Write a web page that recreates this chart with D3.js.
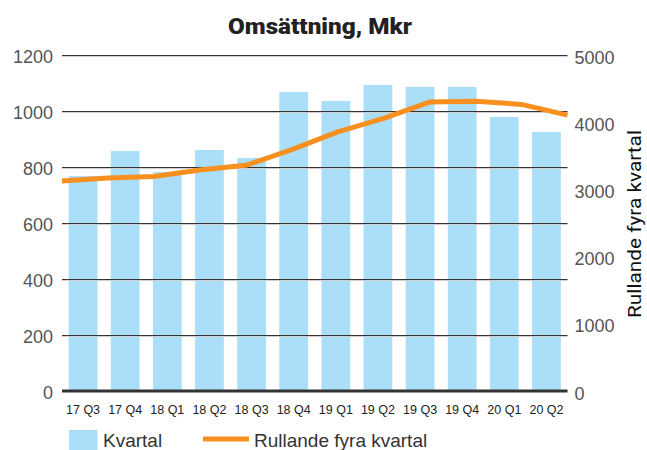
<!DOCTYPE html>
<html><head><meta charset="utf-8">
<script src="https://cdn.jsdelivr.net/npm/d3@7"></script>
<style>body{margin:0;background:#fff}svg{display:block}</style>
</head><body>
<script>
const categories = ["17 Q3","17 Q4","18 Q1","18 Q2","18 Q3","18 Q4","19 Q1","19 Q2","19 Q3","19 Q4","20 Q1","20 Q2"];
const kvartal = [768, 857, 782, 861, 832, 1068, 1036, 1093, 1086, 1086, 979, 925];
const rullande = [3124, 3169, 3193, 3289, 3358, 3593, 3857, 4057, 4300, 4312, 4265, 4105];
const leftTicks = [0, 200, 400, 600, 800, 1000, 1200];
const rightTicks = [0, 1000, 2000, 3000, 4000, 5000];
const title = "Omsättning, Mkr";
const rightTitle = "Rullande fyra kvartal";
const legendLabels = ["Kvartal", "Rullande fyra kvartal"];

const W = 647, H = 450;
const svg = d3.select("body").append("svg").attr("width", W).attr("height", H);
const x0 = 62, x1 = 567.5, yTop = 55, yBot = 391;

const xb = d3.scaleBand().domain(categories).range([x0, x1]).paddingInner(0.317).paddingOuter(0.158);
const xp = d3.scalePoint().domain(categories).range([x0, x1]).padding(0);
const yl = d3.scaleLinear().domain([0, 1200]).range([yBot, yTop]);
const yr = d3.scaleLinear().domain([0, 5000]).range([yBot, yTop]);

// title
svg.append("text").attr("x", 320).attr("y", 34).attr("text-anchor", "middle")
  .attr("font-family", "Roboto, sans-serif").attr("font-weight", 900).attr("font-size", 22.5)
  .attr("textLength", 184).attr("lengthAdjust", "spacingAndGlyphs")
  .attr("fill", "#222").text(title);

// bars
svg.append("g").selectAll("rect").data(kvartal).join("rect")
  .attr("x", (d, i) => xb(categories[i])).attr("width", xb.bandwidth())
  .attr("y", d => yl(d)).attr("height", d => yl(0) - yl(d))
  .attr("fill", "#abdff9");

// gridlines
const grid = svg.append("g");
leftTicks.filter(t => t > 0).forEach(t => {
  grid.append("line").attr("x1", x0).attr("x2", x1).attr("y1", yl(t) + 1.5).attr("y2", yl(t) + 1.5)
    .attr("stroke", "#cfcfcf").attr("stroke-width", 1);
  grid.append("line").attr("x1", x0).attr("x2", x1).attr("y1", yl(t) + 0.5).attr("y2", yl(t) + 0.5)
    .attr("stroke", "#333").attr("stroke-width", 1);
});
grid.append("line").attr("x1", x0).attr("x2", x1).attr("y1", yl(0)).attr("y2", yl(0))
  .attr("stroke", "#333").attr("stroke-width", 3);

// left axis labels
const leftAxis = d3.axisLeft(yl).tickValues(leftTicks).tickFormat(d3.format("d")).tickSize(0).tickPadding(9);
const gl = svg.append("g").attr("transform", `translate(${x0},0)`).call(leftAxis);
gl.select(".domain").remove();
gl.selectAll("text").attr("font-family", "'Liberation Sans', Arial, sans-serif").attr("font-size", 18)
  .attr("fill", "#555").attr("dy", "0.4em");

// right axis labels
const rightAxis = d3.axisRight(yr).tickValues(rightTicks).tickFormat(d3.format("d")).tickSize(0).tickPadding(7);
const gr = svg.append("g").attr("transform", `translate(${x1},0)`).call(rightAxis);
gr.select(".domain").remove();
gr.selectAll("text").attr("font-family", "'Liberation Sans', Arial, sans-serif").attr("font-size", 18)
  .attr("fill", "#555").attr("dy", "0.45em");

// x axis labels
const xAxis = d3.axisBottom(xb).tickSize(0).tickPadding(14);
const gx = svg.append("g").attr("transform", `translate(0,${yBot})`).call(xAxis);
gx.select(".domain").remove();
gx.selectAll("text").attr("font-family", "'Liberation Sans', Arial, sans-serif").attr("font-size", 12.5)
  .attr("fill", "#222");

// line
const line = d3.line().x((d, i) => xp(categories[i])).y(d => yr(d));
svg.append("path").datum(rullande).attr("d", line).attr("fill", "none")
  .attr("stroke", "#f7901e").attr("stroke-width", 5).attr("stroke-linejoin", "round");

// right title
svg.append("text").attr("transform", `translate(641,224) rotate(-90)`).attr("text-anchor", "middle")
  .attr("font-family", "Roboto, sans-serif").attr("font-weight", 400).attr("font-size", 18)
  .attr("textLength", 188).attr("lengthAdjust", "spacingAndGlyphs")
  .attr("fill", "#111").text(rightTitle);

// legend
const lg = svg.append("g");
lg.append("rect").attr("x", 69).attr("y", 430).attr("width", 28.5).attr("height", 20).attr("fill", "#abdff9");
lg.append("text").attr("x", 103).attr("y", 447).attr("font-family", "'Liberation Sans', Arial, sans-serif")
  .attr("font-size", 19).attr("fill", "#333").text(legendLabels[0]);
lg.append("line").attr("x1", 203).attr("x2", 249).attr("y1", 439).attr("y2", 439)
  .attr("stroke", "#f7901e").attr("stroke-width", 5);
lg.append("text").attr("x", 254).attr("y", 447).attr("font-family", "'Liberation Sans', Arial, sans-serif")
  .attr("font-size", 19).attr("fill", "#333").text(legendLabels[1]);
</script>
</body></html>
